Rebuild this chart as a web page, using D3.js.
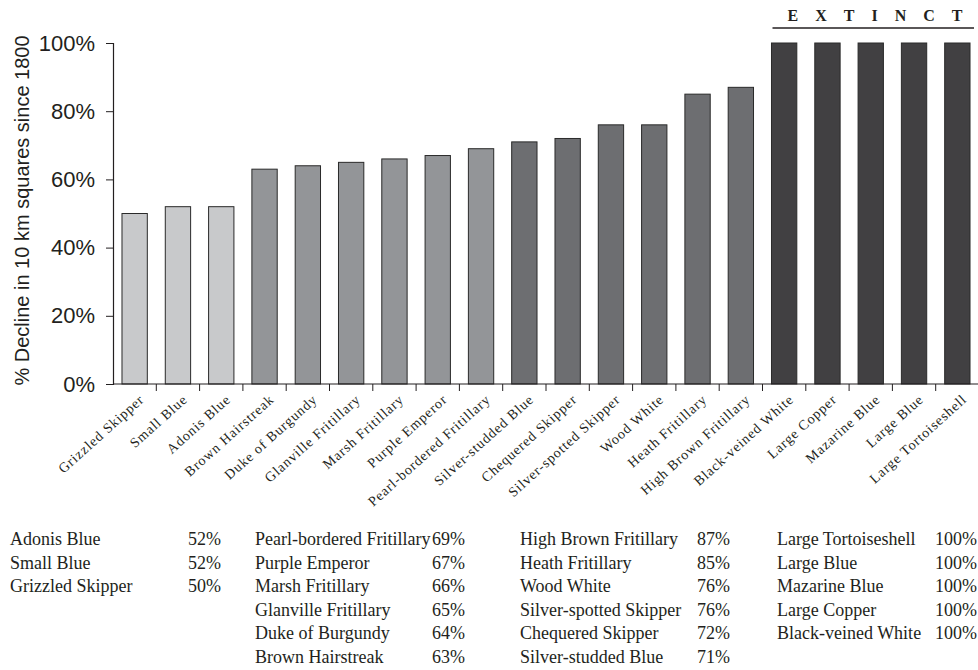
<!DOCTYPE html>
<html>
<head>
<meta charset="utf-8">
<script src="https://cdn.jsdelivr.net/npm/d3@7/dist/d3.min.js"></script>
<style>
  html, body { margin: 0; padding: 0; background: #fff; }
  svg { display: block; }
</style>
</head>
<body>
<svg id="chart" width="978" height="670"></svg>
<script>
// Species ordered by decline (left to right on the chart)
const species = [
  "Grizzled Skipper", "Small Blue", "Adonis Blue", "Brown Hairstreak",
  "Duke of Burgundy", "Glanville Fritillary", "Marsh Fritillary", "Purple Emperor",
  "Pearl-bordered Fritillary", "Silver-studded Blue", "Chequered Skipper",
  "Silver-spotted Skipper", "Wood White", "Heath Fritillary", "High Brown Fritillary",
  "Black-veined White", "Large Copper", "Mazarine Blue", "Large Blue", "Large Tortoiseshell"
];
const decline = [50, 52, 52, 63, 64, 65, 66, 67, 69, 71, 72, 76, 76, 85, 87, 100, 100, 100, 100, 100];
// Shade group of each bar (0 = least declined … 3 = extinct)
const group = [0, 0, 0, 1, 1, 1, 1, 1, 1, 2, 2, 2, 2, 2, 2, 3, 3, 3, 3, 3];
const groupFill = ["#c8c9cb", "#939598", "#6d6e71", "#414042"];
const yTicks = [0, 20, 40, 60, 80, 100];

// Summary table columns (name, value), each listed top to bottom
const tableCols = [
  { names: ["Adonis Blue", "Small Blue", "Grizzled Skipper"], values: [52, 52, 50] },
  { names: ["Pearl-bordered Fritillary", "Purple Emperor", "Marsh Fritillary", "Glanville Fritillary", "Duke of Burgundy", "Brown Hairstreak"],
    values: [69, 67, 66, 65, 64, 63] },
  { names: ["High Brown Fritillary", "Heath Fritillary", "Wood White", "Silver-spotted Skipper", "Chequered Skipper", "Silver-studded Blue"],
    values: [87, 85, 76, 76, 72, 71] },
  { names: ["Large Tortoiseshell", "Large Blue", "Mazarine Blue", "Large Copper", "Black-veined White"],
    values: [100, 100, 100, 100, 100] }
];

const svg = d3.select("#chart");
const sans = "'Liberation Sans', Arial, sans-serif";
const serif = "'Liberation Serif', 'Times New Roman', serif";
const ink = "#231f20";

const x0 = 113, x1 = 979, yTop = 43, yBase = 384;
const x = d3.scaleBand().domain(species).range([x0, x1]).padding(0);
const y = d3.scaleLinear().domain([0, 100]).range([yBase, yTop]);
const barW = x.bandwidth() * 0.585;

// Bars
svg.append("g").selectAll("rect")
  .data(species)
  .join("rect")
  .attr("x", (d) => x(d) + (x.bandwidth() - barW) / 2)
  .attr("y", (d, i) => y(decline[i]))
  .attr("width", barW)
  .attr("height", (d, i) => y(0) - y(decline[i]))
  .attr("fill", (d, i) => groupFill[group[i]])
  .attr("stroke", "#2a2a2a")
  .attr("stroke-width", 1);

// Y axis
const yAxis = svg.append("g")
  .attr("transform", `translate(${x0},0)`)
  .call(d3.axisLeft(y).tickValues(yTicks).tickSize(7).tickPadding(11).tickFormat((d) => d + "%"));
yAxis.select(".domain").attr("stroke", ink).attr("stroke-width", 1.2);
yAxis.selectAll(".tick line").attr("stroke", ink);
yAxis.selectAll(".tick text")
  .attr("font-family", sans).attr("font-size", 22).attr("fill", ink);

// X axis: ticks sit on band boundaries
const xAxis = svg.append("g").attr("transform", `translate(0,${yBase})`);
xAxis.append("line").attr("x1", x0).attr("x2", x1).attr("stroke", ink).attr("stroke-width", 1.2);
xAxis.selectAll("line.tk")
  .data(species.slice(1))
  .join("line")
  .attr("class", "tk")
  .attr("x1", (d) => x(d)).attr("x2", (d) => x(d))
  .attr("y1", 0).attr("y2", 7)
  .attr("stroke", ink);

// Rotated category labels
svg.append("g").selectAll("text")
  .data(species)
  .join("text")
  .attr("transform", (d) => `translate(${x(d) + x.bandwidth() / 2 + 7},${yBase + 13}) rotate(-42)`)
  .attr("text-anchor", "end")
  .attr("dy", "0.35em")
  .attr("font-family", serif)
  .attr("font-size", 14)
  .attr("letter-spacing", "0.9px")
  .attr("fill", ink)
  .text((d) => d);

// Y axis title
svg.append("text")
  .attr("transform", `translate(29,${(yTop + yBase) / 2 - 3}) rotate(-90)`)
  .attr("text-anchor", "middle")
  .attr("font-family", sans)
  .attr("font-size", 20)
  .attr("fill", ink)
  .text("% Decline in 10 km squares since 1800");

// Extinct bracket
const extinctStart = species[group.indexOf(3)];
svg.append("text")
  .attr("x", x(extinctStart) + 25)
  .attr("y", 21)
  .attr("font-family", serif)
  .attr("font-weight", "bold")
  .attr("font-size", 16)
  .attr("letter-spacing", "17px")
  .attr("fill", ink)
  .text("EXTINCT");
svg.append("line")
  .attr("x1", x(extinctStart) + 10).attr("x2", 974)
  .attr("y1", 28).attr("y2", 28)
  .attr("stroke", ink).attr("stroke-width", 1.5);

// Summary table
const colNameX = [10, 255, 520, 777];
const colValX = [221, 465, 730, 977];
const rowY0 = 545, rowStep = 23.5;
tableCols.forEach((col, c) => {
  const g = svg.append("g").attr("font-family", serif).attr("font-size", 18).attr("fill", ink);
  g.selectAll("text.nm").data(col.names).join("text")
    .attr("class", "nm")
    .attr("x", colNameX[c]).attr("y", (d, i) => rowY0 + i * rowStep)
    .text((d) => d);
  g.selectAll("text.vl").data(col.values).join("text")
    .attr("class", "vl")
    .attr("x", colValX[c]).attr("y", (d, i) => rowY0 + i * rowStep)
    .attr("text-anchor", "end")
    .text((d) => d + "%");
});
</script>
</body>
</html>
